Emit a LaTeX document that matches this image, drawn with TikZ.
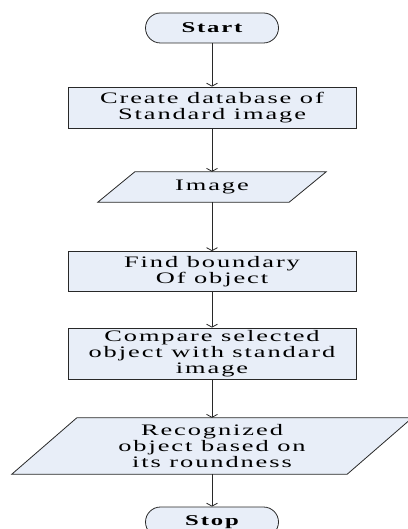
\documentclass[tikz,border=0pt]{standalone}
\usepackage{fontspec}
\setmainfont{Liberation Serif}[FakeStretch=1.65,LetterSpace=12]
\usetikzlibrary{arrows.meta,backgrounds}
\definecolor{boxfill}{RGB}{232,238,248}
\definecolor{edgec}{RGB}{40,40,40}
\begin{document}
\begin{tikzpicture}[x=1pt,y=-1pt,
  every node/.style={font=\fontsize{16}{16}\selectfont, align=center, inner sep=0pt},
  procbox/.style={draw=edgec, fill=boxfill, line width=0.8pt, minimum width=288pt},
  term/.style={draw=edgec, fill=boxfill, line width=0.8pt, rounded corners=15pt,
    minimum width=133pt, minimum height=30pt, font=\fontsize{15}{16}\selectfont\bfseries},
  iopath/.style={draw=edgec, fill=boxfill, line width=0.8pt},
  flow/.style={draw=edgec, line width=0.8pt, -{Straight Barb[length=3pt,width=11pt]}}]
\useasboundingbox (0,0) rectangle (407,529);
\node[term] (start) at (212,28) {Start};
\node[procbox, minimum height=41pt] (create) at (212,107.5) {Create database of\\Standard image};
\node[minimum width=191pt, minimum height=30pt] (img) at (212,187) {Image};
\node[procbox, minimum height=40pt] (find) at (212,271.5) {Find boundary\\Of object};
\node[procbox, minimum height=51pt] (comp) at (212,353.5) {Compare selected\\object with standard\\image};
\node[minimum width=335pt, minimum height=56pt] (recog) at (212,446) {Recognized\\object based on\\its roundness};
\node[term] (stop) at (212,522) {Stop};
\begin{scope}[on background layer]
\draw[iopath] ([xshift=18.5pt]img.north west) -- ([xshift=18.5pt]img.north east)
  -- ([xshift=-18.5pt]img.south east) -- ([xshift=-18.5pt]img.south west) -- cycle;
\draw[iopath] ([xshift=32.5pt]recog.north west) -- ([xshift=32.5pt]recog.north east)
  -- ([xshift=-32.5pt]recog.south east) -- ([xshift=-32.5pt]recog.south west) -- cycle;
\end{scope}
\draw[flow] (start) -- (create);
\draw[flow] (create) -- (img);
\draw[flow] (img) -- (find);
\draw[flow] (find) -- (comp);
\draw[flow] (comp) -- (recog);
\draw[flow] (recog) -- (stop);
\end{tikzpicture}
\end{document}
